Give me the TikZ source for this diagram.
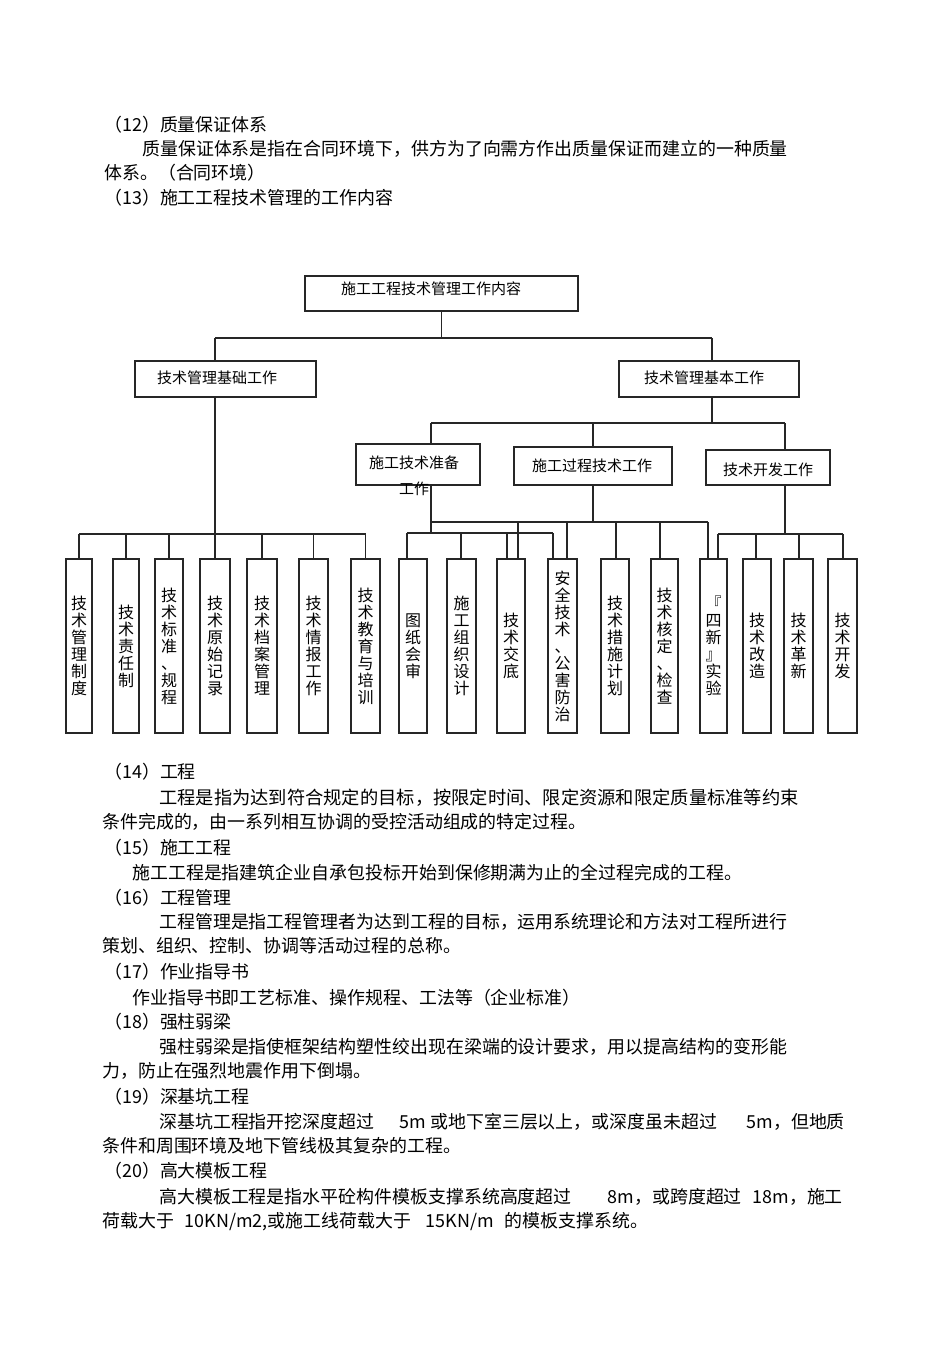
\documentclass[tikz,border=0pt]{standalone}
\usepackage{fontspec}
\setmainfont{Noto Sans CJK SC}
\usetikzlibrary{calc}
\newcommand\mkbox[7]{\node[#1, minimum width={(#5-#3)*0.75pt}, minimum height={(#6-#4)*0.75pt}] (#2) at ({(#3+#5)/2},{(#4+#6)/2}) {#7};}
\begin{document}
\begin{tikzpicture}[x=0.75pt,y=-0.75pt,
  frame/.style={draw=black!85, line width=0.9pt, inner sep=0pt},
  vbox/.style={frame, align=center, font=\fontsize{12}{12.75}\selectfont},
  boxtext/.style={inner sep=0pt, font=\fontsize{11.25}{14}\selectfont},
  conn/.style={draw=black!85, line width=0.9pt},
  heavy/.style={line width=1.4pt},
  body/.style={anchor=base west, inner sep=0pt, font=\fontsize{13.45}{16}\selectfont},
  wide/.style={font=\fontsize{13.7}{16}\selectfont}]
\useasboundingbox[fill=white] (0,0) rectangle (950,1345);

% ---------- text above ----------
\node[body] (t12) at (104,131) {（12）质量保证体系};
\node[body] (t12a) at (142,155) {质量保证体系是指在合同环境下，供方为了向需方作出质量保证而建立的一种质量};
\node[body] (t12b) at (104,179) {体系。（合同环境）};
\node[body] (t13) at (104,204) {（13）施工工程技术管理的工作内容};

% ---------- boxes ----------
\mkbox{frame}{top}{305}{276}{578}{311}{}
\mkbox{frame}{L1}{135}{361}{316}{397}{}
\mkbox{frame}{R1}{619}{361}{799}{397}{}
\mkbox{frame}{m1}{356}{444}{480}{485}{}
\mkbox{frame}{m2}{514}{447}{672}{485}{}
\mkbox{frame}{m3}{706}{450}{830}{485}{}

\node[boxtext] (topt) at (431,289) {施工工程技术管理工作内容};
\node[boxtext] (L1t) at (217,378) {技术管理基础工作};
\node[boxtext] (R1t) at (704,378) {技术管理基本工作};
\node[boxtext, align=center, font=\fontsize{11.25}{19.5}\selectfont] (m1t) at (414,476) {施工技术准备\\工作};
\node[boxtext] (m2t) at (592,466) {施工过程技术工作};
\node[boxtext] (m3t) at (768,470) {技术开发工作};

\mkbox{vbox}{b1}{66}{559}{92}{733}{技\\术\\管\\理\\制\\度}
\mkbox{vbox}{b2}{113}{559}{139}{733}{技\\术\\责\\任\\制}
\mkbox{vbox}{b3}{155}{559}{183}{733}{技\\术\\标\\准\\、\\规\\程}
\mkbox{vbox}{b4}{200}{559}{230}{733}{技\\术\\原\\始\\记\\录}
\mkbox{vbox}{b5}{247}{559}{277}{733}{技\\术\\档\\案\\管\\理}
\mkbox{vbox}{b6}{299}{559}{328}{733}{技\\术\\情\\报\\工\\作}
\mkbox{vbox,heavy}{b7}{351}{559}{380}{733}{技\\术\\教\\育\\与\\培\\训}
\mkbox{vbox}{b8}{399}{559}{427}{733}{图\\纸\\会\\审}
\mkbox{vbox}{b9}{447}{559}{476}{733}{施\\工\\组\\织\\设\\计}
\mkbox{vbox}{b10}{497}{559}{525}{733}{技\\术\\交\\底}
\mkbox{vbox}{b11}{548}{559}{577}{733}{安\\全\\技\\术\\、\\公\\害\\防\\治}
\mkbox{vbox}{b12}{601}{559}{629}{733}{技\\术\\措\\施\\计\\划}
\mkbox{vbox}{b13}{651}{559}{678}{733}{技\\术\\核\\定\\、\\检\\查}
\mkbox{vbox}{b14}{700}{559}{727}{733}{『\\四\\新\\』\\实\\验}
\mkbox{vbox}{b15}{743}{559}{771}{733}{技\\术\\改\\造}
\mkbox{vbox}{b16}{784}{559}{813}{733}{技\\术\\革\\新}
\mkbox{vbox}{b17}{828}{559}{857}{733}{技\\术\\开\\发}

% ---------- connectors ----------
\coordinate (jL) at (215,338);
\coordinate (jR) at (712,338);
\draw[conn] (top.south) -- (top.south |- jL);
\draw[conn] (jL) -- (jR);
\draw[conn] (jL) -- (jL |- L1.north);
\draw[conn] (jR) -- (jR |- R1.north);

% left tree
\coordinate (yL) at (215,534);
\draw[conn] (jL |- L1.south) -- (yL);
\draw[conn] (b1.north |- yL) -- (b7.north |- yL);
\foreach \b in {b1,b2,b3,b4,b5,b6,b7} \draw[conn] (\b.north |- yL) -- (\b.north);

% right tree
\coordinate (kA) at (431,423);
\coordinate (kC) at (785,423);
\draw[conn] (jR |- R1.south) -- (jR |- kA);
\draw[conn] (kA) -- (kC);
\draw[conn] (kA) -- (kA |- m1.north);
\draw[conn] (m2.north |- kA) -- (m2.north);
\draw[conn] (kC) -- (kC |- m3.north);

% from m1
\coordinate (d8) at (407,533);
\coordinate (d9) at (461,533);
\coordinate (d10) at (507,533);
\coordinate (d11) at (553,533);
\draw[conn] (kA |- m1.south) -- (kA |- d8);
\draw[conn] (d8) -- (d11);
\draw[conn] (d8) -- (d8 |- b8.north);
\draw[conn,heavy] (d9) -- (d9 |- b9.north);
\draw[conn] (d10) -- (d10 |- b10.north);
\draw[conn] (d11) -- (d11 |- b11.north);

% from m2
\coordinate (e10) at (518,522);
\coordinate (e11) at (567,522);
\coordinate (e12) at (616,522);
\coordinate (e13) at (660,522);
\coordinate (e14) at (708,522);
\draw[conn] (m2.south) -- (m2.south |- e10);
\draw[conn] (kA |- e10) -- (e14);
\draw[conn] (e10) -- (e10 |- b10.north);
\draw[conn] (e11) -- (e11 |- b11.north);
\draw[conn] (e12) -- (e12 |- b12.north);
\draw[conn,heavy] (e13) -- (e13 |- b13.north);
\draw[conn] (e14) -- (e14 |- b14.north);

% from m3
\coordinate (f14) at (718,534);
\coordinate (f15) at (756,534);
\coordinate (f16) at (799,534);
\coordinate (f17) at (843,534);
\draw[conn] (kC |- m3.south) -- (kC |- f14);
\draw[conn] (f14) -- (f17);
\foreach \f/\b in {f14/b14,f15/b15,f16/b16,f17/b17} \draw[conn] (\f) -- (\f |- \b.north);

% ---------- text below ----------
\node[body] (t14) at (104,778) {（14）工程};
\node[body,wide] (t14a) at (159,804) {工程是指为达到符合规定的目标，按限定时间、限定资源和限定质量标准等约束};
\node[body] (t14b) at (102,828) {条件完成的，由一系列相互协调的受控活动组成的特定过程。};
\node[body] (t15) at (104,854) {（15）施工工程};
\node[body] (t15a) at (132,879) {施工工程是指建筑企业自承包投标开始到保修期满为止的全过程完成的工程。};
\node[body] (t16) at (104,904) {（16）工程管理};
\node[body] (t16a) at (159,928) {工程管理是指工程管理者为达到工程的目标，运用系统理论和方法对工程所进行};
\node[body] (t16b) at (102,952) {策划、组织、控制、协调等活动过程的总称。};
\node[body] (t17) at (104,978) {（17）作业指导书};
\node[body] (t17a) at (132,1004) {作业指导书即工艺标准、操作规程、工法等（企业标准）};
\node[body] (t18) at (104,1028) {（18）强柱弱梁};
\node[body] (t18a) at (159,1053) {强柱弱梁是指使框架结构塑性绞出现在梁端的设计要求，用以提高结构的变形能};
\node[body] (t18b) at (102,1077) {力，防止在强烈地震作用下倒塌。};
\node[body] (t19) at (104,1103) {（19）深基坑工程};
\node[body] (t19a) at (159,1128) {深基坑工程指开挖深度超过\hspace{19pt}5m 或地下室三层以上，或深度虽未超过\hspace{22pt}5m，但地质};
\node[body] (t19b) at (102,1152) {条件和周围环境及地下管线极其复杂的工程。};
\node[body] (t20) at (104,1177) {（20）高大模板工程};
\node[body] (t20a) at (159,1203) {高大模板工程是指水平砼构件模板支撑系统高度超过\hspace{27pt}8m，或跨度超过\hspace{8pt}18m，施工};
\node[body] (t20b) at (102,1227) {荷载大于\hspace{8pt}10KN/m2,或施工线荷载大于\hspace{11pt}15KN/m\hspace{8pt}的模板支撑系统。};
\end{tikzpicture}
\end{document}
